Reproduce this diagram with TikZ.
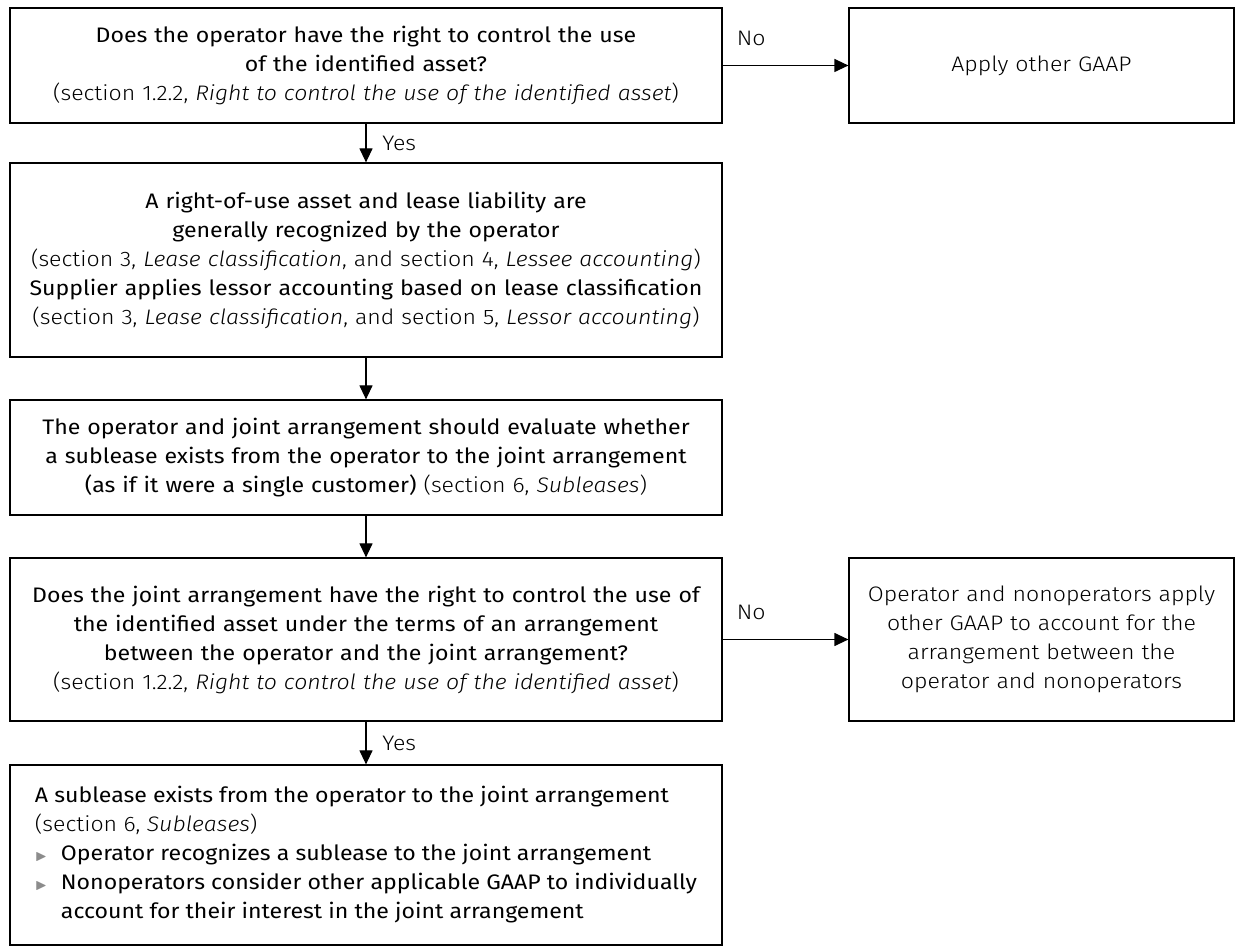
\documentclass[tikz,border=0pt]{standalone}
\usepackage{fontspec}
\setmainfont{Fira Sans}[FakeStretch=1.1]
\newfontfamily\lightfont{Fira Sans Light}[FakeStretch=1.1]
\usepackage{amssymb}
\usetikzlibrary{arrows.meta}
\definecolor{bulgray}{gray}{0.55}
\newcommand{\secref}[1]{{\lightfont #1}}
\newcommand{\bul}{\makebox[13pt][l]{\color{bulgray}\scriptsize$\blacktriangleright$}}

\begin{document}
\begin{tikzpicture}[x=0.5pt,y=-0.5pt,
		box/.style={draw,line width=0.6pt,align=center,inner sep=3pt,font=\fontsize{10.5}{14.5}\selectfont},
		leftbox/.style={box,text width=350pt},
		rightbox/.style={box,text width=186.5pt,font=\lightfont\fontsize{10.5}{14.5}\selectfont},
		arr/.style={-{Triangle[length=7pt,width=6.5pt]},line width=0.6pt},
		lbl/.style={font=\lightfont\fontsize{10.5}{12}\selectfont}]
			\useasboundingbox (0,0) rectangle (1238,951);
			\node[leftbox,minimum height=57.5pt] (ctrl) at (366,65.5)
				{Does the operator have the right to control the use\\ of the identified asset?\\
				\secref{(section 1.2.2, \textit{Right to control the use of the identified asset})}};
			\node[rightbox,minimum height=57.5pt] (gaap) at (1041.5,65.5) {Apply other GAAP};
			\node[leftbox,minimum height=97pt] (rou) at (366,260)
				{A right-of-use asset and lease liability are\\ generally recognized by the operator\\
				\secref{(section 3, \textit{Lease classification}, and section 4, \textit{Lessee accounting})}\\
				Supplier applies lessor accounting based on lease classification\\
				\secref{(section 3, \textit{Lease classification}, and section 5, \textit{Lessor accounting})}};
			\node[leftbox,minimum height=57.5pt] (eval) at (366,457.5)
				{The operator and joint arrangement should evaluate whether\\
				a sublease exists from the operator to the joint arrangement\\
				(as if it were a single customer) \secref{(section 6, \textit{Subleases})}};
			\node[leftbox,minimum height=81.5pt] (joint) at (366,639.5)
				{Does the joint arrangement have the right to control the use of\\
				the identified asset under the terms of an arrangement\\
				between the operator and the joint arrangement?\\
				\secref{(section 1.2.2, \textit{Right to control the use of the identified asset})}};
			\node[rightbox,minimum height=81.5pt] (other) at (1041.5,639.5)
				{Operator and nonoperators apply\\ other GAAP to account for the\\
				arrangement between the\\ operator and nonoperators};
			\node[box,minimum width=356pt,minimum height=90pt,align=left] (sub) at (366,855)
				{A sublease exists from the operator to the joint arrangement\\
				\secref{(section 6, \textit{Subleases})}\\
				\bul Operator recognizes a sublease to the joint arrangement\\
				\bul Nonoperators consider other applicable GAAP to individually\\
				\hspace*{13pt}account for their interest in the joint arrangement};
			\draw[arr] (ctrl) -- node[pos=0,lbl,anchor=west,xshift=3.5pt,yshift=13.5pt] {No} (gaap);
			\draw[arr] (ctrl) -- node[lbl,right,xshift=4.5pt] {Yes} (rou);
			\draw[arr] (rou) -- (eval);
			\draw[arr] (eval) -- (joint);
			\draw[arr] (joint) -- node[pos=0,lbl,anchor=west,xshift=3.5pt,yshift=13.5pt] {No} (other);
			\draw[arr] (joint) -- node[lbl,right,xshift=4.5pt] {Yes} (sub);
		\end{tikzpicture}
\end{document}
